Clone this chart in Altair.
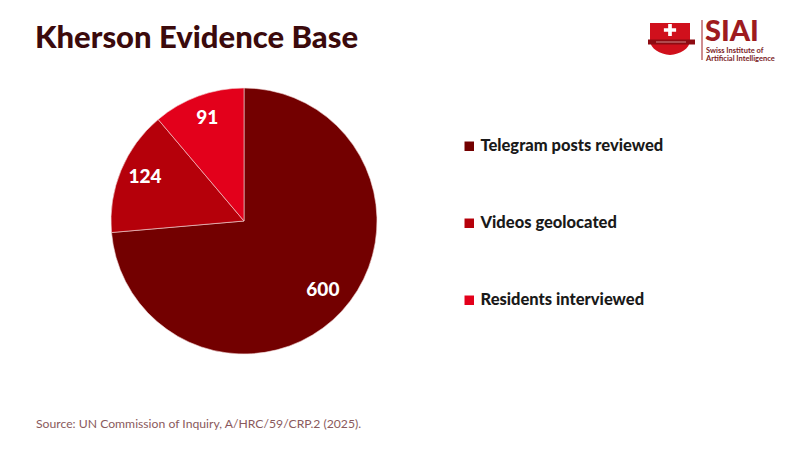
import altair as alt
import pandas as pd

categories = ["Telegram posts reviewed", "Videos geolocated", "Residents interviewed"]
values = [600, 124, 91]
colors = ["#730000", "#b5000a", "#e3001b"]

title_text = "Kherson Evidence Base"
source_text = "Source: UN Commission of Inquiry, A/HRC/59/CRP.2 (2025)."
logo_main = "SIAI"
logo_sub = ["Swiss Institute of", "Artificial Intelligence"]

FONT = "Lato"
W, H = 784, 434

df = pd.DataFrame({"category": categories, "value": values, "order": list(range(len(values)))})

color_scale = alt.Scale(domain=categories, range=colors)

base = alt.Chart(df).encode(
    theta=alt.Theta("value:Q", stack=True),
    order=alt.Order("order:Q"),
)

pie = base.mark_arc(radius=133, stroke="#f4d8d8", strokeWidth=0.6).encode(
    x=alt.value(236),
    y=alt.value(213),
    color=alt.Color(
        "category:N",
        scale=color_scale,
        sort=categories,
        legend=alt.Legend(
            title=None,
            orient="none",
            legendX=453,
            legendY=130,
            symbolType="square",
            symbolSize=90,
            symbolStrokeWidth=0,
            labelFont=FONT,
            labelFontSize=16.5,
            labelFontWeight=900,
            labelColor="#1a1a1a",
            rowPadding=60,
            labelLimit=300,
            labelOffset=3,
        ),
    ),
)

labels = base.mark_text(
    radius=107, font=FONT, fontSize=19, fontWeight=900, color="white"
).encode(
    x=alt.value(236),
    y=alt.value(210),
    text=alt.Text("value:Q"),
)

title = alt.Chart(pd.DataFrame({"t": [title_text]})).mark_text(
    align="left", baseline="middle", font=FONT, fontSize=31, fontWeight=900, color="#3b0a0c"
).encode(x=alt.value(27), y=alt.value(31), text="t:N")

source = alt.Chart(pd.DataFrame({"t": [source_text]})).mark_text(
    align="left", baseline="middle", font=FONT, fontSize=12.2, color="#8a5a5c"
).encode(x=alt.value(28), y=alt.value(416), text="t:N")

# logo
shield_path = "M-1,-0.8 L1,-0.8 L1,0.05 C1,0.5 0.5,0.75 0,0.8 C-0.5,0.75 -1,0.5 -1,0.05 Z"
cross_path = "M-0.3,-1 L0.3,-1 L0.3,-0.3 L1,-0.3 L1,0.3 L0.3,0.3 L0.3,1 L-0.3,1 L-0.3,0.3 L-1,0.3 L-1,-0.3 L-0.3,-0.3 Z"
logo_df = pd.DataFrame({"k": [0]})
shield = alt.Chart(logo_df).mark_point(
    shape=shield_path, filled=True, color="#d0101c", size=1600, opacity=1
).encode(x=alt.value(662), y=alt.value(31))
cross = alt.Chart(logo_df).mark_point(
    shape=cross_path, filled=True, color="white", size=150, opacity=1
).encode(x=alt.value(662), y=alt.value(22))
ribbon = alt.Chart(logo_df).mark_rule(color="#8e0b12", strokeWidth=5).encode(
    x=alt.value(640), x2=alt.value(687), y=alt.value(34)
)
ribbon_line = alt.Chart(logo_df).mark_rule(color="#f0c0c0", strokeWidth=0.7).encode(
    x=alt.value(648), x2=alt.value(678), y=alt.value(34)
)
vline = alt.Chart(logo_df).mark_rule(color="#9e1b20", strokeWidth=1).encode(
    x=alt.value(694), y=alt.value(12), y2=alt.value(52)
)
siai = alt.Chart(pd.DataFrame({"t": [logo_main]})).mark_text(
    align="left", baseline="middle", font=FONT, fontSize=29, fontWeight=900, color="#9e1b20"
).encode(x=alt.value(697), y=alt.value(24), text="t:N")
sub1 = alt.Chart(pd.DataFrame({"t": [logo_sub[0]]})).mark_text(
    align="left", baseline="middle", font=FONT, fontSize=7.5, fontWeight="bold", color="#7a1a1e"
).encode(x=alt.value(698), y=alt.value(43), text="t:N")
sub2 = alt.Chart(pd.DataFrame({"t": [logo_sub[1]]})).mark_text(
    align="left", baseline="middle", font=FONT, fontSize=7.5, fontWeight="bold", color="#7a1a1e"
).encode(x=alt.value(698), y=alt.value(51), text="t:N")

chart = alt.layer(
    pie, labels, title, source, shield, ribbon, ribbon_line, cross, vline, siai, sub1, sub2
).properties(
    width=W, height=H, padding=0, autosize=alt.AutoSizeParams(type="none"),
    background="white",
).configure_view(stroke=None)

chart.save("out.html", embed_options={"renderer": "svg", "actions": False})
